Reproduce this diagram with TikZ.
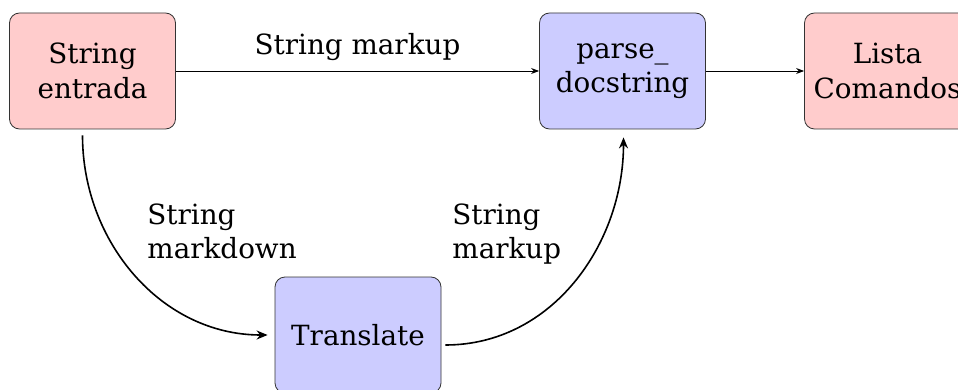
\documentclass[tikz,border=0pt]{standalone}
\usepackage{fontspec}
\setmainfont{DejaVu Serif}
\usetikzlibrary{arrows.meta}
\begin{document}
\begin{tikzpicture}[x=0.5pt,y=-0.5pt,
  font=\fontsize{13.9}{17.3}\selectfont,
  blockbox/.style={draw=black!80, line width=0.4pt, rounded corners=5pt,
    minimum width=83pt, minimum height=58pt, align=center, inner sep=0pt},
  redbox/.style={blockbox, fill=red!20},
  bluebox/.style={blockbox, fill=blue!20},
  flatarrow/.style={line width=0.45pt, -{Stealth[length=4pt,width=3pt]}},
  curvearrow/.style={line width=0.8pt, -{Stealth[length=5.5pt,width=4.5pt,inset=1.8pt]}},
  lbl/.style={inner sep=0pt, align=left}]
\useasboundingbox (0,0) rectangle (958,390);

\node[redbox]  (entrada)   at (92.5,71)  {String\\entrada};
\node[bluebox] (parse)     at (622.5,71) {parse\_\\docstring};
\node[redbox]  (lista)     at (887.5,71) {Lista\\Comandos};
\node[bluebox] (translate) at (358,335)  {Translate};

\draw[flatarrow] (entrada.east) -- (parse.west);
\draw[flatarrow] (parse.east) -- (lista.west);
\draw[curvearrow] ([xshift=-5pt,yshift=-3pt]entrada.south)
  to[out=-90,in=180] ([xshift=-3.5pt]translate.west);
\draw[curvearrow] ([xshift=2pt,yshift=-5pt]translate.east)
  to[out=0,in=-90] ([xshift=0.5pt,yshift=-4pt]parse.south);

\node[lbl, anchor=base] (top) at (357.5,55) {String markup};
\node[lbl, anchor=north west] (down) at (147,203) {String\\markdown};
\node[lbl, anchor=north west] (up)   at (452,203) {String\\markup};
\end{tikzpicture}
\end{document}
